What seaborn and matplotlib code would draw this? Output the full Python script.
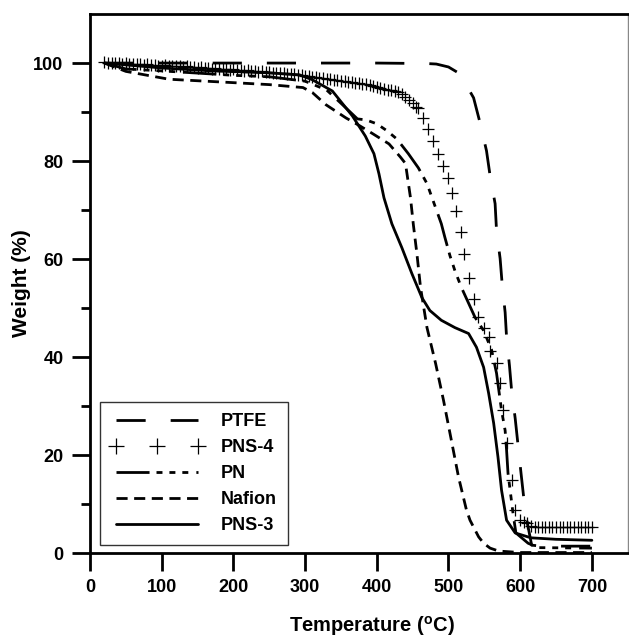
import matplotlib

matplotlib.use("Agg")

import matplotlib.pyplot as plt
import pandas as pd
import seaborn as sns

# PTFE
temp_ptfe = [20, 100, 200, 300, 400, 470, 483, 500, 516, 535, 544, 553, 558, 565, 567, 572, 575,
             579, 581, 585, 588, 593, 597, 601, 605, 610, 616, 630, 700]
weight_ptfe = [100, 100, 100, 100, 100, 99.9, 99.8, 99.2, 97.8, 92.9, 87.8, 82.1, 77, 71.3, 65.8,
               60.1, 54.6, 49.1, 44, 38.3, 33.2, 27.5, 22, 16.5, 11.2, 6.1, 1.6, 1.4, 1.4]

# PNS-4 (markers only), written in four stretches
temp_pns4_a = [20, 25, 30, 35, 40, 45, 50, 55, 60, 65,
               70, 75, 80, 85, 90, 95, 100, 105, 110, 115,
               120, 125, 130, 135, 140, 145, 150, 155, 160, 165,
               170, 175, 180, 185, 190, 195, 200, 205, 210, 215,
               220, 225, 230, 235, 240, 245, 250, 255, 260, 265]
weight_pns4_a = [100.2, 100.1, 100.0, 100.1, 100.0, 99.9, 100.0, 99.9, 99.8, 99.9,
                 99.8, 99.7, 99.8, 99.6, 99.7, 99.5, 99.5, 99.6, 99.4, 99.5,
                 99.3, 99.4, 99.2, 99.3, 99.1, 99.2, 99.0, 99.1, 98.9, 99.0,
                 98.8, 98.9, 98.8, 98.7, 98.8, 98.6, 98.7, 98.5, 98.6, 98.4,
                 98.5, 98.3, 98.4, 98.2, 98.3, 98.1, 98.1, 98.0, 98.0, 97.9]
temp_pns4_b = [270, 275, 280, 285, 290, 295, 300, 305, 310, 315,
               320, 325, 330, 335, 340, 345, 350, 355, 360, 365,
               370, 375, 380, 385, 390, 395, 400, 405, 410, 415,
               420, 425, 430, 435, 440, 445, 450, 455, 458]
weight_pns4_b = [97.9, 97.8, 97.7, 97.7, 97.6, 97.5, 97.4, 97.3, 97.2, 97.1,
                 97.0, 96.9, 96.8, 96.7, 96.6, 96.5, 96.4, 96.3, 96.2, 96.1,
                 96.0, 95.9, 95.8, 95.7, 95.5, 95.4, 95.2, 95.0, 94.8, 94.6,
                 94.4, 94.2, 94.0, 93.6, 93.1, 92.4, 91.8, 91.1, 90.8]
temp_pns4_c = [465, 472, 479, 486, 493, 500, 505, 511, 517, 522,
               529, 535, 541, 549, 556, 558, 567, 572, 576, 581,
               588, 593]
weight_pns4_c = [88.8, 86.6, 84.1, 81.5, 79.0, 76.6, 73.5, 69.9, 65.6, 61.1,
                 56.2, 51.9, 48.1, 46.0, 44.0, 41.3, 38.7, 34.6, 29.1, 22.4,
                 14.9, 8.8]
temp_pns4_d = [600, 605, 609, 615, 620, 625, 630, 635, 640, 645,
               650, 655, 660, 665, 670, 675, 680, 685, 690, 695,
               700]
weight_pns4_d = [6.7, 6.3, 6.1, 5.5, 5.3, 5.4, 5.3, 5.4, 5.3, 5.4,
                 5.3, 5.4, 5.3, 5.4, 5.3, 5.4, 5.3, 5.4, 5.3, 5.4,
                 5.3]

# PN
temp_pn = [20, 50, 100, 200, 250, 300, 330, 350, 373, 385, 400, 414, 428, 444, 458, 470, 490,
           495, 502, 509, 518, 537, 549, 560, 567, 574, 579, 581, 583, 590, 594, 611, 625, 700]
weight_pn = [100, 98.8, 98.4, 97.5, 97.2, 96.3, 94.5, 91.8, 88.6, 88.4, 87.6, 86.2, 84.5, 81.5,
             78.6, 75.4, 67.2, 64.4, 60.7, 57.6, 54.2, 48.1, 45.4, 41.5, 36.7, 29.1, 25, 21,
             16.3, 8.1, 4.1, 2.0, 1.1, 1.0]

# Nafion
temp_nafion = [20, 50, 110, 200, 250, 297, 310, 329, 357, 375, 393, 417, 433, 440, 444, 447, 451,
               456, 461, 470, 482, 493, 504, 514, 525, 530, 542, 549, 558, 570, 600, 650, 700]
weight_nafion = [100, 98.3, 96.7, 96.0, 95.6, 95.0, 94, 91.5, 88.8, 87.3, 85.7, 83.5, 80.8, 79.5,
                 75.5, 72.5, 67, 61, 54.2, 46, 38.7, 31.2, 23, 15.5, 8.8, 6.7, 3.3, 2, 1, 0.4,
                 0.1, 0.1, 0.1]

# PNS-3
temp_pns3 = [20, 100, 170, 250, 292, 310, 338, 366, 384, 396, 403, 410, 421, 435, 449, 463, 474,
             490, 509, 528, 539, 549, 556, 563, 569, 574, 581, 593, 615, 650, 700]
weight_pns3 = [100, 99.0, 98.4, 98.0, 97.6, 96.6, 94.3, 89.2, 85.1, 81.5, 77.4, 72.5, 67.2, 62.3,
               57, 52.1, 49.5, 47.5, 46, 44.8, 42, 37.9, 32.6, 26.5, 19.6, 12.8, 6.7, 4.1, 3.1,
               2.8, 2.6]

x_ticks = [0, 100, 200, 300, 400, 500, 600, 700]
y_ticks = [0, 20, 40, 60, 80, 100]
y_minor = [10, 30, 50, 70, 90]


def frame(temps, weights):
    return pd.DataFrame({"T": temps, "W": weights})


pns4 = pd.concat([
    frame(temp_pns4_a, weight_pns4_a),
    frame(temp_pns4_b, weight_pns4_b),
    frame(temp_pns4_c, weight_pns4_c),
    frame(temp_pns4_d, weight_pns4_d),
], ignore_index=True)

sns.set_theme(style="ticks")
plt.rcParams["font.family"] = ["Liberation Sans", "DejaVu Sans"]
plt.rcParams["font.weight"] = "bold"
plt.rcParams["text.color"] = "black"
plt.rcParams["axes.labelcolor"] = "black"
plt.rcParams["xtick.color"] = "black"
plt.rcParams["ytick.color"] = "black"
plt.rcParams["mathtext.fontset"] = "custom"
plt.rcParams["mathtext.rm"] = "Liberation Sans:bold"
plt.rcParams["mathtext.default"] = "rm"
plt.rcParams["lines.scale_dashes"] = False

fig = plt.figure(figsize=(6.29, 6.42), dpi=100)
ax = fig.add_axes([0.1431, 0.1386, 0.8549, 0.8395])

common = dict(x="T", y="W", estimator=None, sort=False, color="black", ax=ax)
lw = 2.0

sns.lineplot(data=frame(temp_ptfe, weight_ptfe), lw=lw, linestyle=(0, (21, 18)),
             label="PTFE", **common)
sns.lineplot(data=pns4, linestyle="", marker="+", markersize=8.5, markeredgecolor="black",
             markeredgewidth=0.9, label="PNS-4", **common)
sns.lineplot(data=frame(temp_pn, weight_pn), lw=lw,
             linestyle=(0, (23.8, 5, 4.3, 5, 4.3, 5, 4.3, 5.8)), label="PN", **common)
sns.lineplot(data=frame(temp_nafion, weight_nafion), lw=lw, linestyle=(0, (8, 4.7)),
             label="Nafion", **common)
sns.lineplot(data=frame(temp_pns3, weight_pns3), lw=lw, linestyle="-", label="PNS-3", **common)

ax.set_xlim(0, 750)
ax.set_ylim(0, 110)
ax.set_xticks(x_ticks)
ax.set_yticks(y_ticks)
ax.set_yticks(y_minor, minor=True)
ax.tick_params(axis="both", which="major", direction="out", length=13, width=2,
               labelsize=13, pad=6, color="black", labelcolor="black")
ax.tick_params(axis="y", which="minor", direction="out", length=6.5, width=2, color="black")
for lab in ax.get_xticklabels() + ax.get_yticklabels():
    lab.set_fontweight("bold")

for side in ["left", "top", "bottom"]:
    ax.spines[side].set_linewidth(2)
    ax.spines[side].set_color("black")
ax.spines["right"].set_linewidth(1)
ax.spines["right"].set_color("#888888")
ax.spines["right"].set_visible(True)
ax.spines["top"].set_visible(True)

ax.set_xlabel("Temperature ($^{o}$C)", fontsize=14.5, fontweight="bold", color="black")
ax.set_ylabel("Weight (%)", fontsize=15, fontweight="bold", labelpad=2, color="black")
ax.xaxis.set_label_coords(0.524, -0.113)

leg = ax.legend(loc="lower left", bbox_to_anchor=(0.0186, 0.0148), borderaxespad=0,
                fancybox=False, framealpha=1, edgecolor="#333333", numpoints=3,
                markerscale=1.3, handlelength=5.1, handletextpad=1.0, labelspacing=0.5,
                borderpad=0.6, prop={"size": 13, "weight": "bold"})
leg.get_frame().set_linewidth(1.0)
for text in leg.get_texts():
    text.set_color("black")

fig.savefig("out.png", dpi=100)
plt.close(fig)
